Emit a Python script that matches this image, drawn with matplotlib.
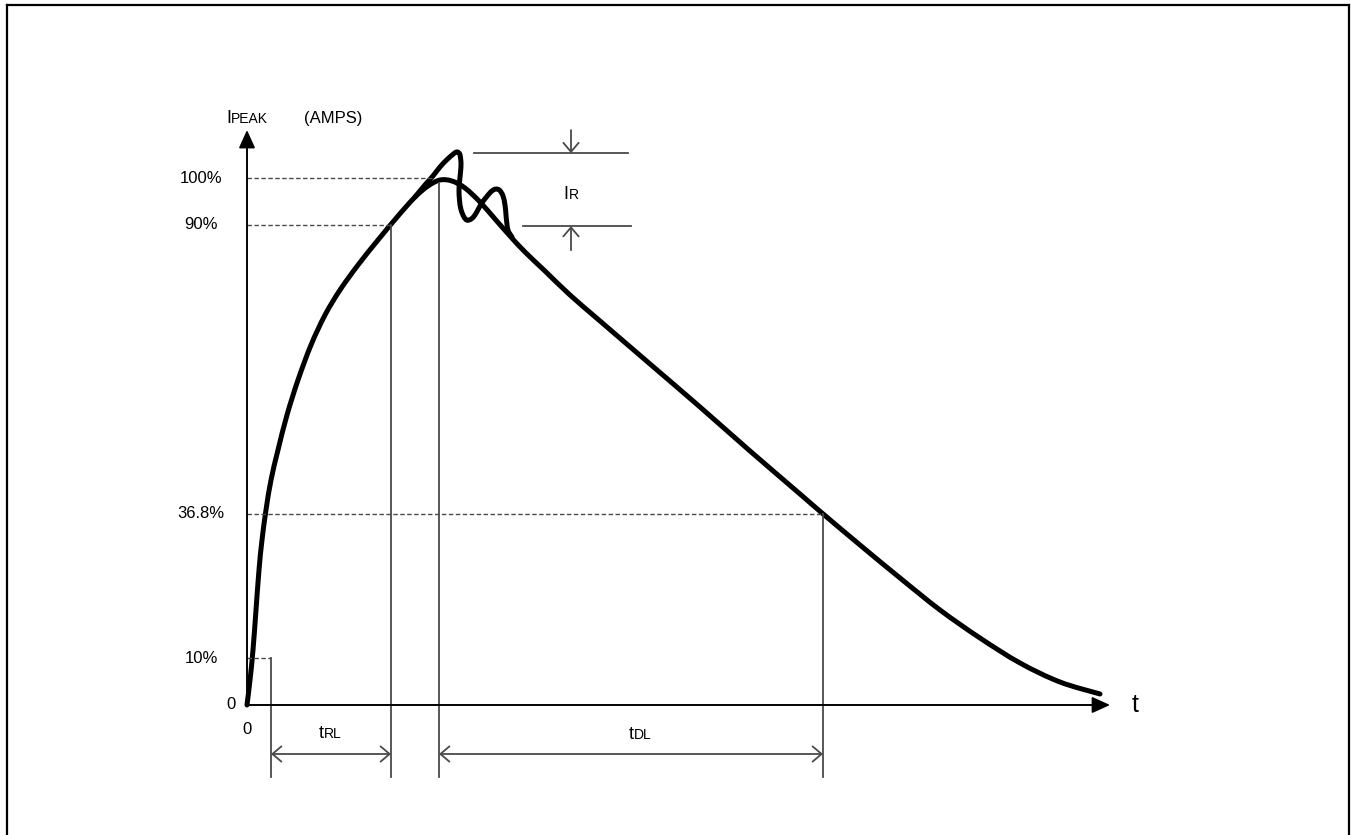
import matplotlib
matplotlib.use("Agg")
import numpy as np
import matplotlib.pyplot as plt
from matplotlib.lines import Line2D
from matplotlib.path import Path
from matplotlib.patches import PathPatch

plt.rcParams["font.family"] = ["Liberation Sans", "DejaVu Sans"]

# main (smooth) current pulse: time (arbitrary units) vs. current (% of peak)
t_curve = [0, 3, 6, 9, 12, 15, 19, 24, 31, 40, 51, 64, 78, 93, 111, 131, 151,
           168, 181, 193, 205, 218, 233, 248, 263, 278, 298, 323, 353, 403, 453,
           503, 553, 575, 613, 653, 693, 733, 773, 813, 853]
i_curve = [0, 4.74, 10.44, 18.03, 25.62, 31.31, 37.0, 42.69, 48.39, 55.03,
           61.67, 68.31, 74.0, 78.75, 83.49, 88.24, 92.79, 96.39, 98.48, 99.62,
           99.43, 98.1, 95.45, 92.22, 89.0, 85.96, 82.35, 77.8, 72.87, 64.71,
           56.55, 48.2, 40.04, 36.43, 30.36, 24.1, 18.03, 12.71, 7.97, 4.36, 2.09]

# ringing overlay near the peak
t_ring = [168, 178, 186, 193, 200, 206, 209, 211, 213, 214, 213.5, 212.5, 212,
          212.5, 214, 217, 220, 224, 228, 235, 243, 247, 250, 253, 256, 258,
          259, 259.5, 261, 265]
i_ring = [96.4, 98.7, 100.4, 102.1, 103.5, 104.5, 104.9, 104.9, 104.4, 102.8,
          101.1, 99.2, 97.7, 95.8, 94.0, 92.6, 92.0, 92.2, 93.0, 95.3, 97.2,
          97.8, 97.9, 97.6, 96.6, 94.9, 93.0, 92.0, 90.1, 88.8]

# reference levels and the times where the pulse crosses them (as drawn)
level_labels = ["100%", "90%", "36.8%", "10%"]
level_values = [100, 91.1, 36.3, 8.9]
level_ends = [185, 144, 576, 24]
marker_tops = [8.9, 91.1, 99.0, 36.3]
marker_times = [24, 144, 192, 576]
t_rl = (24, 144)
t_dl = (192, 576)
ir_top, ir_bottom = 104.7, 90.9

GRAY = "#4a4a4a"


def smooth_path(xs, ys):
    # Catmull-Rom through the read points, drawn as cubic Bezier segments
    pts = np.column_stack([xs, ys]).astype(float)
    verts = [pts[0]]
    codes = [Path.MOVETO]
    n = len(pts)
    for k in range(n - 1):
        p0 = pts[k - 1] if k > 0 else pts[k]
        p1, p2 = pts[k], pts[k + 1]
        p3 = pts[k + 2] if k + 2 < n else pts[k + 1]
        verts += [p1 + (p2 - p0) / 6, p2 - (p3 - p1) / 6, p2]
        codes += [Path.CURVE4] * 3
    return Path(verts, codes)


fig = plt.figure(figsize=(13.51, 8.35), dpi=100)
ax = fig.add_axes([0, 0, 1, 1])
ax.set_xlim(-247, 1104)
ax.set_ylim(-24.67, 133.78)
ax.set_axis_off()

# frame
for xs, ys in [([7, 7], [0, 830]), ([7, 1349], [830, 830]), ([1349, 1349], [830, 0])]:
    fig.add_artist(Line2D([x / 1351 for x in xs], [y / 835 for y in ys],
                          color="black", lw=1.6, transform=fig.transFigure))

# axes with arrows
head = dict(arrowstyle="-|>,head_length=1.1,head_width=0.5", mutation_scale=10,
            lw=1.3, color="black", shrinkA=0, shrinkB=0)
ax.annotate("", xy=(0, 109.1), xytext=(0, 0), arrowprops=head)
ax.plot([0, 0], [0, 106], color=GRAY, lw=1.3)
ax.annotate("", xy=(863, 0), xytext=(0, 0), arrowprops=head)
ax.plot([0, 855], [0, 0], color=GRAY, lw=1.3)

# dashed level lines and labels
for lab, val, end in zip(level_labels, level_values, level_ends):
    ax.plot([0, end], [val, val], color=GRAY, lw=1.0, dashes=(3.2, 1.8))
    ax.text(-46, val, lab, ha="center", va="center", fontsize=12)

# vertical marker lines
bottom = -13.66
for tm, top in zip(marker_times, marker_tops):
    ax.plot([tm, tm], [top, bottom], color=GRAY, lw=1.3)

# dimension arrows
arrow_kw = dict(arrowstyle="<->,head_length=0.65,head_width=0.55",
                mutation_scale=10, lw=1.3, color=GRAY, shrinkA=0, shrinkB=0)
ax.annotate("", xy=(t_rl[1], -9.3), xytext=(t_rl[0], -9.3), arrowprops=arrow_kw)
ax.annotate("", xy=(t_dl[1], -9.3), xytext=(t_dl[0], -9.3), arrowprops=arrow_kw)

# ringing amplitude I_R
ax.plot([227, 381], [ir_top, ir_top], color=GRAY, lw=1.3)
ax.plot([276, 384], [ir_bottom, ir_bottom], color=GRAY, lw=1.3)
one_kw = dict(arrowstyle="->,head_length=0.65,head_width=0.55",
              mutation_scale=10, lw=1.3, color=GRAY, shrinkA=0, shrinkB=0)
ax.annotate("", xy=(324, ir_top), xytext=(324, 109.1), arrowprops=one_kw)
ax.annotate("", xy=(324, ir_bottom), xytext=(324, 86.3), arrowprops=one_kw)

# curves
for xs, ys in [(t_curve, i_curve), (t_ring, i_ring)]:
    ax.add_patch(PathPatch(smooth_path(xs, ys), fill=False, ec="black", lw=3.6,
                           capstyle="round", joinstyle="round"))


# text labels (main letter + small subscript on the same baseline)
def sub_label(x, y, main, sub, size=13, subsize=10):
    ax.text(x, y, main, ha="right", va="baseline", fontsize=size)
    ax.text(x, y, sub, ha="left", va="baseline", fontsize=subsize)


sub_label(-16, 110.4, "I", "PEAK")
ax.text(57, 110.4, "(AMPS)", ha="left", va="baseline", fontsize=12)
sub_label(321.5, 96.0, "I", "R")
sub_label(77, -6.26, "t", "RL")
sub_label(387, -6.45, "t", "DL")
ax.text(-16, 0, "0", ha="center", va="center", fontsize=12)
ax.text(0, -4.7, "0", ha="center", va="center", fontsize=12)
ax.text(888, 0, "t", ha="center", va="center", fontsize=18)

fig.savefig("out.png", dpi=100)
